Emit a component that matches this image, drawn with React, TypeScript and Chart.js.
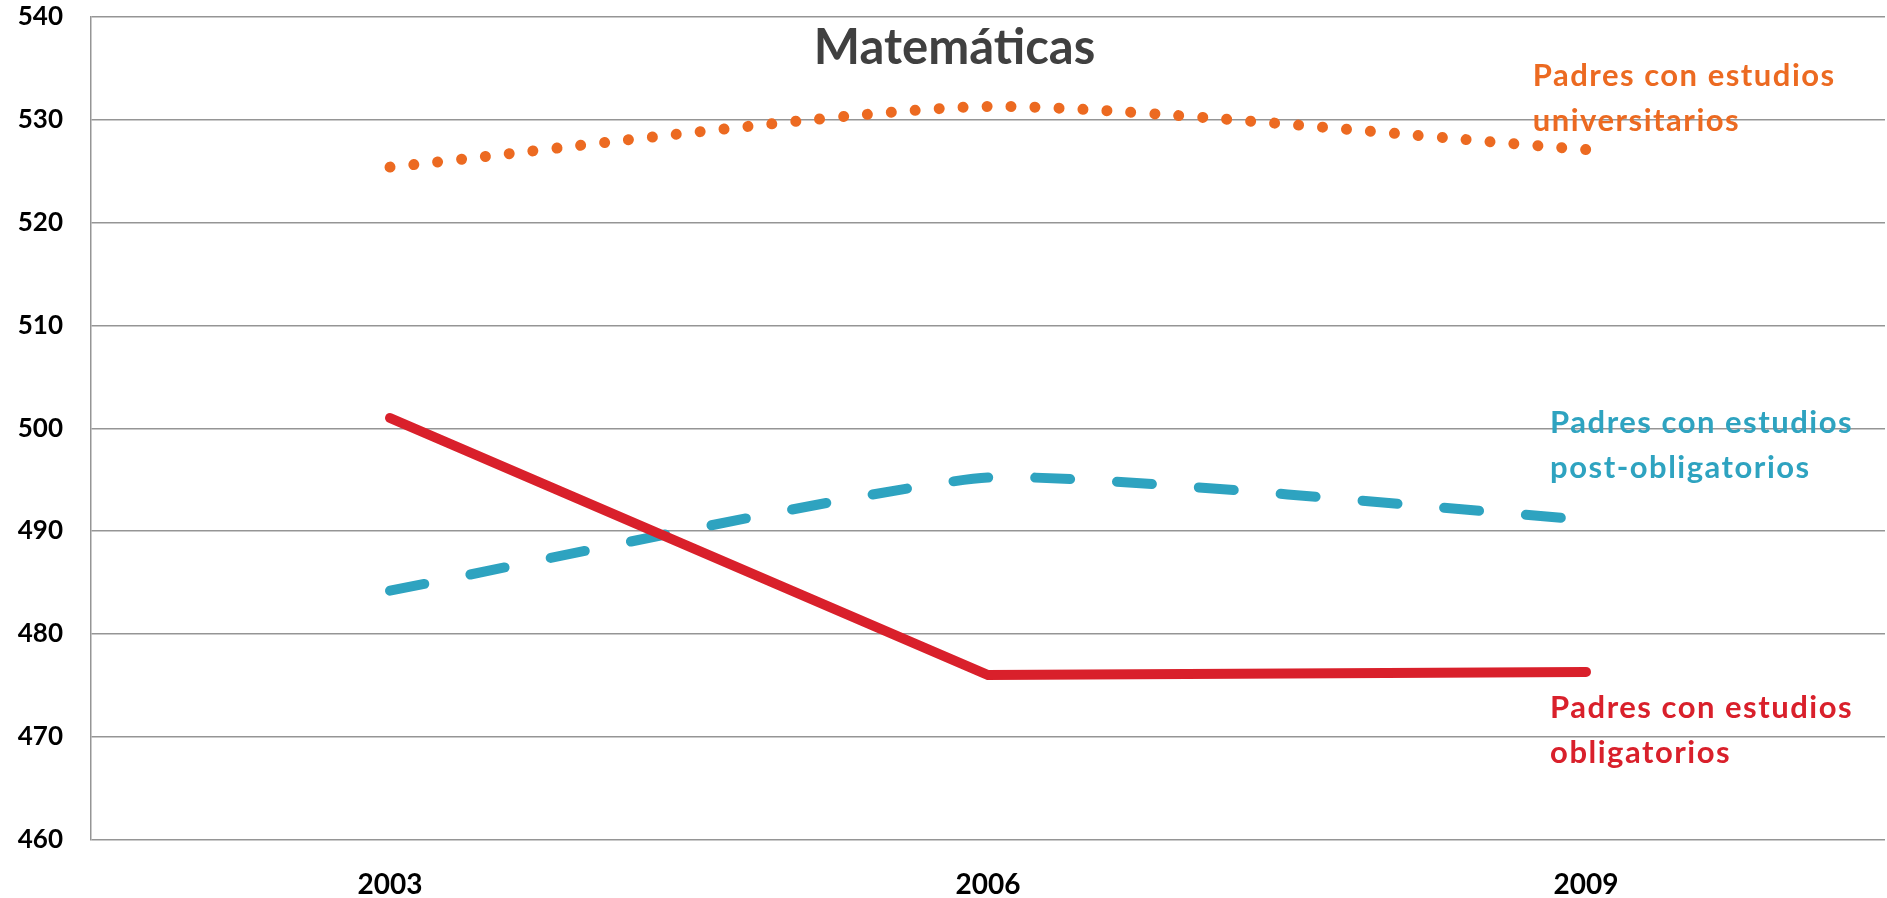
import React, { useEffect, useRef } from "react";
import { Chart, registerables } from "chart.js";

Chart.register(...registerables);

const categories = ["2003", "2006", "2009"];
const obligatorios = [501.0, 476.0, 476.3];
const postObligatorios = [484.2, 495.2, 491.1];
const universitarios = [525.4, 531.3, 527.1];

const yMin = 460;
const yMax = 540;
const yStep = 10;

const titleText = "Matemáticas";

const labelLines = [
  ["Padres con estudios", "universitarios"],
  ["Padres con estudios", "post-obligatorios"],
  ["Padres con estudios", "obligatorios"],
];
const labelX = [1.911, 1.94, 1.94];
const labelY = [
  [534.3, 529.9],
  [500.5, 496.1],
  [472.8, 468.4],
];
const labelColors = ["#EC6A21", "#2EA3C0", "#D9202B"];

const FONT = "Lato, 'Noto Sans', sans-serif";

const annotationPlugin = {
  id: "annotations",
  afterDatasetsDraw(chart: any) {
    const { ctx, scales, chartArea } = chart;
    ctx.save();
    // title
    ctx.fillStyle = "#404040";
    ctx.font = `bold 49px ${FONT}`;
    ctx.textAlign = "center";
    ctx.textBaseline = "middle";
    const cx = chart.width / 2 + 11;
    ctx.fillText(titleText, cx, chartArea.top + 31);
    // series labels
    ctx.font = `bold 31px ${FONT}`;
    try {
      (ctx as any).letterSpacing = "1.5px";
    } catch (e) {}
    ctx.textAlign = "left";
    for (let i = 0; i < labelLines.length; i++) {
      ctx.fillStyle = labelColors[i];
      const x = scales.x.getPixelForValue(labelX[i]);
      labelLines[i].forEach((line, j) => {
        const y = scales.y.getPixelForValue(labelY[i][j]);
        ctx.fillText(line, x, y);
      });
    }
    ctx.restore();
  },
};

export default function App() {
  const ref = useRef<HTMLCanvasElement | null>(null);
  useEffect(() => {
    document.body.style.margin = "0";
    const canvas = ref.current;
    if (!canvas) return;
    const chart = new Chart(canvas, {
      type: "line",
      data: {
        labels: categories,
        datasets: [
          {
            label: "Padres con estudios obligatorios",
            data: obligatorios,
            borderColor: "#D9202B",
            borderWidth: 10,
            borderCapStyle: "round",
            borderJoinStyle: "miter",
            tension: 0,
            pointRadius: 0,
            fill: false,
          },
          {
            label: "Padres con estudios post-obligatorios",
            data: postObligatorios,
            borderColor: "#2EA3C0",
            borderWidth: 10,
            borderCapStyle: "round",
            borderDash: [35, 47],
            tension: 0.15,
            pointRadius: 0,
            fill: false,
          },
          {
            label: "Padres con estudios universitarios",
            data: universitarios,
            borderColor: "#EC6A21",
            borderWidth: 11,
            borderCapStyle: "round",
            borderDash: [0.01, 24],
            tension: 0.2,
            pointRadius: 0,
            fill: false,
          },
        ],
      },
      options: {
        responsive: false,
        animation: false,
        devicePixelRatio: 1,
        layout: { padding: { top: 17, right: 2, left: 0, bottom: 0 } },
        plugins: {
          legend: { display: false },
          title: { display: false },
          tooltip: { enabled: false },
        },
        scales: {
          x: {
            offset: true,
            grid: { display: false, drawTicks: false },
            border: { display: false },
            ticks: {
              color: "#000",
              padding: 29,
              font: { family: FONT, size: 28, weight: "bold" },
            },
            afterFit(scale: any) {
              scale.height = 58.5;
            },
          },
          y: {
            min: yMin,
            max: yMax,
            grid: { color: "#959595", lineWidth: 1.5, drawTicks: false },
            border: { display: true, color: "#959595", width: 1.5 },
            ticks: {
              stepSize: yStep,
              color: "#000",
              padding: 28,
              font: { family: FONT, size: 26, weight: "bold" },
            },
            afterFit(scale: any) {
              scale.width = 91;
              scale.paddingTop = 16;
              scale.paddingBottom = 16;
            },
          },
        },
      },
      plugins: [annotationPlugin],
    });
    return () => chart.destroy();
  }, []);
  return (
    <div style={{ width: 1887, height: 898 }}>
      <canvas ref={ref} width={1887} height={898} />
    </div>
  );
}
